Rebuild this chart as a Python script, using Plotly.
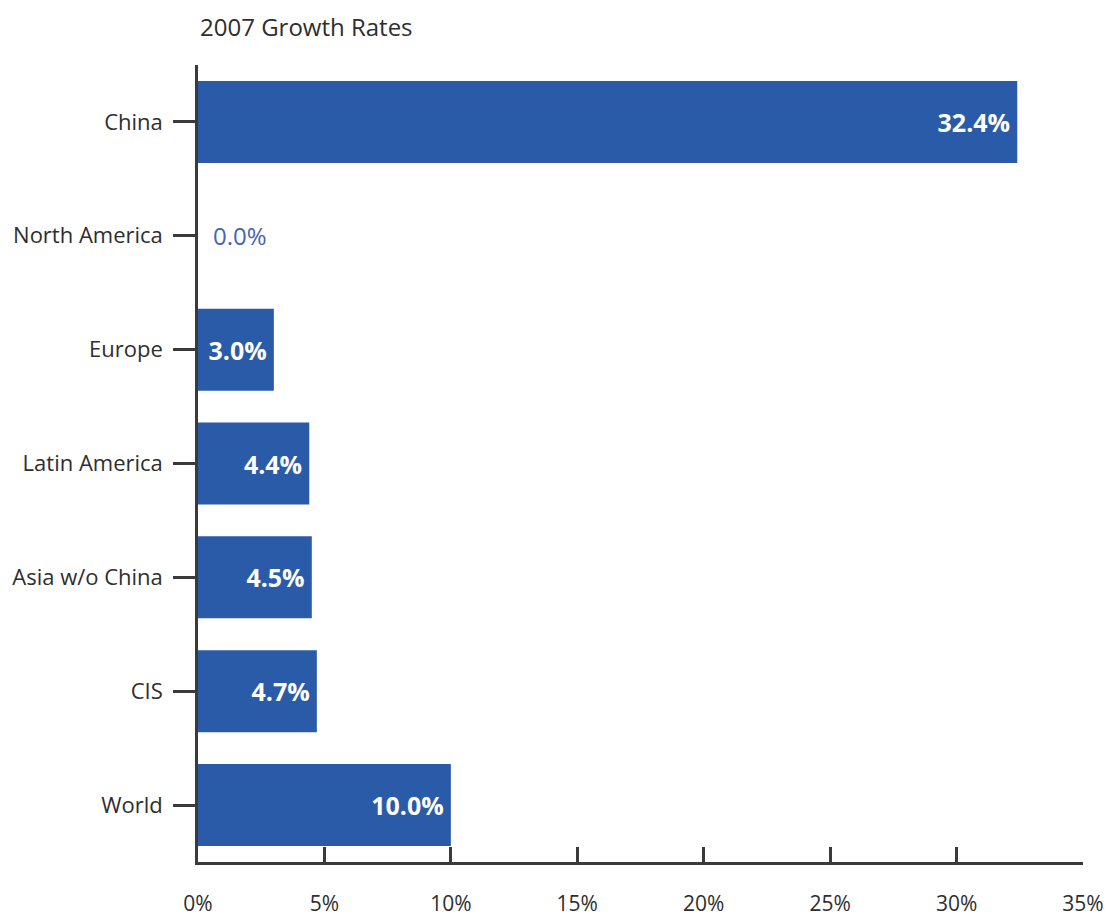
import plotly.graph_objects as go

categories = ["China", "North America", "Europe", "Latin America", "Asia w/o China", "CIS", "World"]
growth = [32.4, 0.0, 3.0, 4.4, 4.5, 4.7, 10.0]
tick_vals = [0, 5, 10, 15, 20, 25, 30, 35]
tick_text = ["0%", "5%", "10%", "15%", "20%", "25%", "30%", "35%"]

BAR = "#2a5ba8"
AXIS = "#3a3a3a"
TEXT = "#2e2e2e"
FONT = "Open Sans"

positions = ["outside" if v < 1 else "inside" for v in growth]
labels = [("\u2002" + f"{v:.1f}%") if v < 1 else (f"{v:.1f}%" + "\u2009") for v in growth]

fig = go.Figure(go.Bar(
    x=growth,
    y=categories,
    orientation="h",
    marker=dict(color=BAR, line=dict(width=0)),
    text=labels,
    textposition=positions,
    insidetextanchor="end",
    constraintext="none",
    insidetextfont=dict(family=FONT, size=25, color="white", weight="bold"),
    outsidetextfont=dict(family=FONT, size=24, color="#4a62b3"),
    cliponaxis=False,
))

# the page body has an 8px margin, so the figure is sized and placed to compensate
fig.update_layout(
    width=1109, height=911,
    margin=dict(l=190, r=34, t=57, b=57, autoexpand=False),
    paper_bgcolor="white", plot_bgcolor="white",
    bargap=0.28,
    showlegend=False,
    font=dict(family=FONT, size=22, color=TEXT),
    title=dict(
        text="2007 Growth Rates",
        font=dict(family=FONT, size=24, color=TEXT),
        xref="paper", x=0.0, xanchor="left",
        yref="container", y=0.979, yanchor="middle",
        pad=dict(l=2),
    ),
    xaxis=dict(
        range=[0, 35],
        tickvals=tick_vals, ticktext=tick_text,
        showgrid=False, zeroline=False,
        showline=True, linecolor=AXIS, linewidth=2.5,
        ticks="inside", ticklen=15, tickwidth=2.5, tickcolor=AXIS,
        ticklabelstandoff=21,
        automargin=False,
        tickfont=dict(family=FONT, size=21, color=TEXT),
    ),
    yaxis=dict(
        categoryorder="array", categoryarray=categories,
        autorange="reversed",
        showgrid=False, zeroline=False,
        showline=True, linecolor=AXIS, linewidth=2.5,
        ticks="outside", ticklen=22, tickwidth=2.5, tickcolor=AXIS,
        ticklabelstandoff=6,
        automargin=False,
        tickfont=dict(family=FONT, size=22, color=TEXT),
    ),
)

fig.write_html("out.html")
